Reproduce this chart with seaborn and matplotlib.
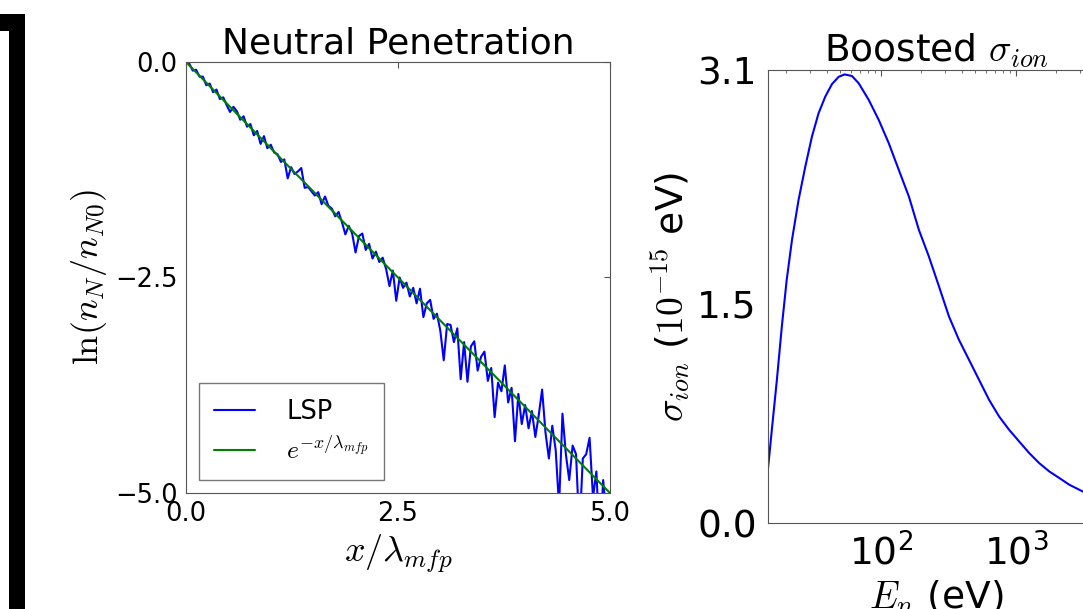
import numpy as np
import pandas as pd
import matplotlib
matplotlib.use('Agg')
import matplotlib.pyplot as plt
import seaborn as sns

# Valores lidos da figura
# painel esquerdo: ln(n_N/n_N0) do LSP, amostras igualmente espaçadas em x de 0 a 5
lsp_y = [0.00, -0.02, -0.10, -0.09, -0.17, -0.17, -0.27, -0.25, -0.35, -0.32,
         -0.43, -0.41, -0.50, -0.58, -0.52, -0.57, -0.67, -0.63, -0.75, -0.72,
         -0.85, -0.80, -0.95, -0.86, -1.00, -0.96, -1.05, -1.07, -1.16, -1.13,
         -1.35, -1.22, -1.30, -1.27, -1.23, -1.46, -1.45, -1.50, -1.55, -1.51,
         -1.65, -1.56, -1.67, -1.70, -1.79, -1.74, -1.86, -2.00, -1.90, -1.99,
         -2.21, -2.02, -1.99, -2.18, -2.11, -2.28, -2.20, -2.32, -2.27, -2.40,
         -2.60, -2.42, -2.77, -2.50, -2.62, -2.56, -2.72, -2.62, -2.80, -2.63,
         -2.96, -2.80, -2.76, -2.98, -2.92, -3.12, -3.46, -3.04, -3.05, -3.25,
         -3.09, -3.68, -3.25, -3.71, -3.30, -3.24, -3.58, -3.42, -3.36, -3.70,
         -3.55, -4.12, -3.72, -3.82, -3.52, -3.95, -3.78, -4.40, -3.85, -4.20,
         -3.98, -4.25, -4.05, -4.35, -4.10, -3.80, -4.30, -4.60, -4.22, -4.50,
         -5.15, -4.08, -4.55, -4.85, -4.45, -4.55, -5.45, -4.60, -4.55, -4.36,
         -5.05, -4.75, -5.60, -4.85, -5.30, -5.00]
lsp_x = np.linspace(0, 5, len(lsp_y))

# reta teórica e^{-x/lambda}
teoria_x = [0.0, 5.0]
teoria_y = [0.0, -5.0]

# painel direito: sigma_ion (1e-15) versus energia (eV)
energia = [14.3, 15.6, 17.0, 18.5, 20.1, 22.0, 24.6, 27.6, 30.9, 34.6, 38.8,
           43.5, 48.8, 54.0, 61.2, 68.7, 81.5, 96.6, 114.6, 136, 161.5, 191.5,
           227, 270, 320, 379, 450, 534, 634, 752, 892, 1059, 1256, 1490, 1769,
           2099, 2490, 3110, 3400]
sigma = [0.285, 0.638, 0.980, 1.345, 1.664, 1.938, 2.211, 2.439, 2.644, 2.804,
         2.918, 3.004, 3.054, 3.070, 3.059, 3.009, 2.895, 2.758, 2.599, 2.416,
         2.234, 2.006, 1.824, 1.618, 1.413, 1.254, 1.117, 0.980, 0.843, 0.729,
         0.638, 0.558, 0.479, 0.410, 0.353, 0.308, 0.262, 0.217, 0.200]

df_lsp = pd.DataFrame({'x': lsp_x, 'y': lsp_y})
df_teoria = pd.DataFrame({'x': teoria_x, 'y': teoria_y})
df_sigma = pd.DataFrame({'E': energia, 'sigma': sigma})

sns.set_style('white')
plt.rcParams['font.family'] = ['DejaVu Sans']
plt.rcParams['mathtext.fontset'] = 'cm'
plt.rcParams['text.color'] = 'black'
plt.rcParams['axes.labelcolor'] = 'black'
plt.rcParams['axes.edgecolor'] = '#555555'
plt.rcParams['xtick.color'] = '#555555'
plt.rcParams['ytick.color'] = '#555555'
plt.rcParams['xtick.labelcolor'] = 'black'
plt.rcParams['ytick.labelcolor'] = 'black'

fig = plt.figure(figsize=(10.83, 6.09), dpi=100)

# traço preto à esquerda (resto do painel anterior)
fig.add_artist(plt.Rectangle((9 / 1083, 0), 16 / 1083, 1 - 15 / 609,
                             transform=fig.transFigure, color='black', lw=0))
fig.add_artist(plt.Rectangle((0, 1 - 31 / 609), 25 / 1083, 17 / 609,
                             transform=fig.transFigure, color='black', lw=0))

# Painel esquerdo
ax1 = fig.add_axes([0.1717, 0.1905, 0.3915, 0.7077])
sns.lineplot(data=df_lsp, x='x', y='y', ax=ax1, color='#0000ff', lw=1.5,
             label='LSP', estimator=None, sort=False)
sns.lineplot(data=df_teoria, x='x', y='y', ax=ax1, color='#008000', lw=1.5,
             label=r'$e^{-x/\lambda_{mfp}}$', estimator=None, sort=False)
ax1.set_xlim(0, 5)
ax1.set_ylim(-5, 0)
ax1.set_xticks([0, 2.5, 5])
ax1.set_yticks([-5, -2.5, 0])
ax1.tick_params(direction='in', top=True, right=True, length=4, labelsize=18.5, pad=6)
ax1.set_title('Neutral Penetration', fontsize=26)
ax1.set_xlabel(r'$x/\lambda_{mfp}$', fontsize=26)
ax1.set_ylabel(r'$\ln(n_N/n_{N0})$', fontsize=26)
leg = ax1.legend(loc='lower left', fontsize=18.5, fancybox=False, handlelength=1.6,
                 handletextpad=1.2, borderpad=0.6)
leg.get_frame().set_edgecolor('#555555')

# Painel direito
ax2 = fig.add_axes([0.7091, 0.1412, 0.3103, 0.7438])
ax2.set_xscale('log')
sns.lineplot(data=df_sigma, x='E', y='sigma', ax=ax2, color='#0000ff', lw=1.5,
             estimator=None, sort=False)
ax2.set_xlim(14.6, 4500)
ax2.set_ylim(0, 3.1)
ax2.set_yticks([0, 1.5, 3.1])
ax2.tick_params(which='both', direction='in', top=True, right=True, labelsize=27, pad=8)
ax2.tick_params(which='major', length=4)
ax2.tick_params(which='minor', length=2)
ax2.set_title(r'Boosted $\sigma_{ion}$', fontsize=27)
ax2.set_xlabel(r'$E_n$ (eV)', fontsize=27)
ax2.set_ylabel(r'$\sigma_{ion}$ ($10^{-15}$ eV)', fontsize=27)

fig.savefig('out.png', dpi=100)
